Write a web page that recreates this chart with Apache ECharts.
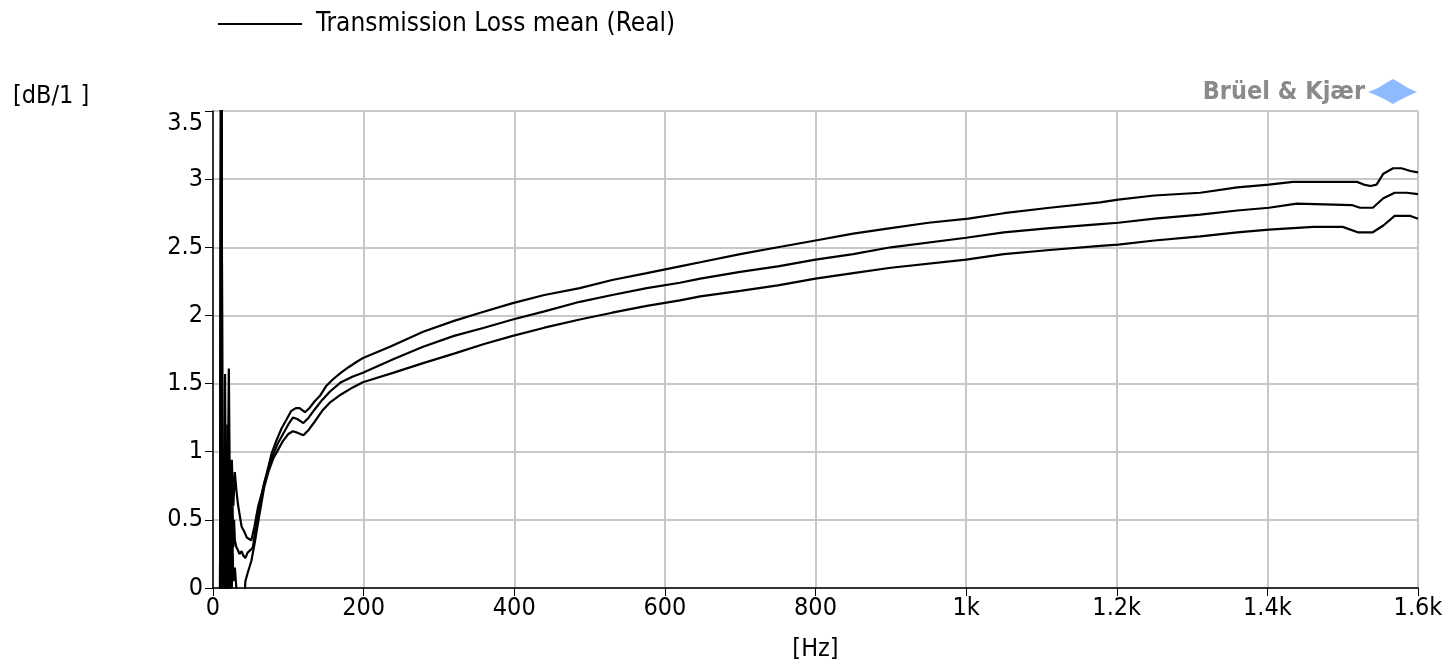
<!DOCTYPE html>
<html>
<head>
<meta charset="utf-8">
<title>Transmission Loss</title>
<script src="https://cdn.jsdelivr.net/npm/echarts@6/dist/echarts.min.js"></script>
<style>
  html, body { margin: 0; padding: 0; background: #fff; }
  #chart { width: 1450px; height: 662px; }
</style>
</head>
<body>
<div id="chart"></div>
<script>
// tick labels
const xTickLabels = ['0', '200', '400', '600', '800', '1k', '1.2k', '1.4k', '1.6k']
const yTickLabels = ['0', '0.5', '1', '1.5', '2', '2.5', '3', '3.5']

// [Hz, dB]; values outside 0..3.5 are clipped like in the original
const upperCurve = [
  [9, -1], [11, 5], [13, -1], [16, 1.57], [18, -0.5], [21, 1.61], [23, 0.3], [25, 0.94],
  [27, 0.6], [29, 0.85], [31, 0.72], [33, 0.62], [35, 0.55], [38, 0.45], [41, 0.42],
  [45, 0.37], [48, 0.36], [51, 0.35], [55, 0.45], [60, 0.6], [65, 0.7], [69, 0.79],
  [74, 0.9], [78, 0.99], [84, 1.08], [91, 1.17], [98, 1.24], [104, 1.30], [110, 1.32],
  [115, 1.32], [122, 1.29], [128, 1.32], [135, 1.37], [142, 1.41], [150, 1.48], [159, 1.53],
  [170, 1.58], [180, 1.62], [191, 1.66], [200, 1.69], [235, 1.77], [279, 1.88], [320, 1.96],
  [355, 2.02], [398, 2.09], [440, 2.15], [487, 2.20], [530, 2.26], [576, 2.31], [620, 2.36],
  [647, 2.39], [700, 2.45], [750, 2.50], [800, 2.55], [850, 2.60], [900, 2.64], [950, 2.68],
  [1003, 2.71], [1050, 2.75], [1111, 2.79], [1178, 2.83], [1202, 2.85], [1250, 2.88],
  [1311, 2.90], [1360, 2.94], [1402, 2.96], [1434, 2.98], [1519, 2.98], [1528, 2.96],
  [1537, 2.95], [1545, 2.96], [1554, 3.04], [1567, 3.08], [1578, 3.08], [1590, 3.06], [1600, 3.05]
]
const meanCurve = [
  [9, -1], [11, 5], [13, -1], [16, 1.0], [17, -0.3], [19, 1.2], [20, -0.2], [21, 0.9],
  [22, 0.1], [24, 0.75], [25, 0.2], [26, 0.6], [27, 0.3], [28, 0.5], [29, 0.35], [31, 0.3],
  [33, 0.28], [35, 0.25], [38, 0.27], [40, 0.24], [43, 0.22], [46, 0.26], [50, 0.28],
  [53, 0.3], [57, 0.45], [62, 0.6], [68, 0.77], [74, 0.88], [80, 0.98], [86, 1.06],
  [93, 1.13], [100, 1.2], [106, 1.25], [112, 1.24], [120, 1.21], [127, 1.25], [135, 1.31],
  [145, 1.38], [155, 1.44], [170, 1.51], [185, 1.55], [199, 1.58], [240, 1.68], [279, 1.77],
  [320, 1.85], [360, 1.91], [398, 1.97], [440, 2.03], [487, 2.10], [530, 2.15], [576, 2.20],
  [620, 2.24], [647, 2.27], [700, 2.32], [750, 2.36], [800, 2.41], [850, 2.45], [900, 2.50],
  [1000, 2.57], [1050, 2.61], [1111, 2.64], [1178, 2.67], [1202, 2.68], [1250, 2.71],
  [1311, 2.74], [1360, 2.77], [1402, 2.79], [1439, 2.82], [1512, 2.81], [1523, 2.79],
  [1540, 2.79], [1554, 2.86], [1569, 2.90], [1585, 2.90], [1600, 2.89]
]
const lowerCurve = [
  [9, -1], [11, 5], [13, -1], [16, 0.6], [17, -0.5], [19, 0.8], [20, -0.3], [21, 0.5],
  [22, -0.3], [24, 0.45], [25, 0.0], [26, 0.3], [27, 0.05], [29, 0.15], [31, 0.0],
  [33, -0.3], [40, -0.3], [43, 0.05], [46, 0.11], [51, 0.2], [56, 0.35], [62, 0.55],
  [68, 0.74], [74, 0.86], [80, 0.95], [86, 1.01], [93, 1.08], [100, 1.13], [106, 1.15],
  [112, 1.14], [120, 1.12], [127, 1.16], [135, 1.22], [145, 1.30], [155, 1.36], [170, 1.42],
  [185, 1.47], [199, 1.51], [240, 1.58], [279, 1.65], [320, 1.72], [360, 1.79], [398, 1.85],
  [440, 1.91], [487, 1.97], [530, 2.02], [576, 2.07], [620, 2.11], [647, 2.14], [700, 2.18],
  [750, 2.22], [800, 2.27], [850, 2.31], [900, 2.35], [1000, 2.41], [1050, 2.45],
  [1111, 2.48], [1178, 2.51], [1202, 2.52], [1250, 2.55], [1311, 2.58], [1360, 2.61],
  [1402, 2.63], [1461, 2.65], [1500, 2.65], [1520, 2.61], [1540, 2.61], [1554, 2.66],
  [1569, 2.73], [1590, 2.73], [1600, 2.71]
]

const FONT = "'DejaVu Sans Condensed', 'DejaVu Sans', sans-serif"

const chart = echarts.init(document.getElementById('chart'))

function curve(name, data) {
  return {
    name: name,
    type: 'line',
    data: data,
    symbol: 'none',
    clip: true,
    lineStyle: { color: '#000', width: 2.2 },
    itemStyle: { color: '#000' }
  }
}

chart.setOption({
  animation: false,
  backgroundColor: '#fff',
  textStyle: { fontFamily: FONT },
  legend: {
    data: ['Transmission Loss mean (Real)'],
    left: 213,
    top: 6,
    icon: 'rect',
    itemWidth: 84,
    itemHeight: 2,
    itemStyle: { color: '#000' },
    textStyle: { fontFamily: FONT, fontSize: 26, color: '#000', padding: [0, 0, 0, 9] }
  },
  grid: { left: 213, right: 32, top: 111, bottom: 74, outerBoundsMode: 'none' },
  xAxis: {
    type: 'value',
    min: 0,
    max: 1600,
    interval: 200,
    name: '[Hz]',
    nameLocation: 'middle',
    nameGap: 49,
    nameTextStyle: { fontFamily: FONT, fontSize: 25, color: '#000' },
    axisLine: { lineStyle: { color: '#000', width: 1.5 } },
    axisTick: { show: true, length: 8, lineStyle: { color: '#000', width: 1 } },
    axisLabel: {
      fontFamily: FONT, fontSize: 25, color: '#000', margin: 8,
      formatter: v => xTickLabels[Math.round(v / 200)]
    },
    splitLine: { show: true, lineStyle: { color: '#c8c8c8', width: 2 } }
  },
  yAxis: {
    type: 'value',
    min: 0,
    max: 3.5,
    interval: 0.5,
    axisLine: { show: true, lineStyle: { color: '#000', width: 1.5 } },
    axisTick: { show: true, length: 8, lineStyle: { color: '#000', width: 1 } },
    axisLabel: {
      fontFamily: FONT, fontSize: 25, color: '#000', margin: 10,
      verticalAlignMaxLabel: 'top',
      formatter: v => yTickLabels[Math.round(v / 0.5)]
    },
    splitLine: { show: true, lineStyle: { color: '#c8c8c8', width: 2 } }
  },
  graphic: [
    {
      type: 'text',
      left: 13,
      top: 84,
      style: { text: '[dB/1 ]', font: '25px ' + FONT, fill: '#000' }
    },
    {
      type: 'text',
      right: 85,
      top: 80,
      style: { text: 'Brüel & Kjær', font: 'bold 25px ' + FONT, fill: '#8a8a8a' }
    },
    {
      type: 'polygon',
      shape: {
        points: [[1368, 92], [1378, 88], [1386, 83], [1393, 79], [1400, 83], [1408, 88],
                 [1417, 92], [1408, 96], [1400, 100], [1393, 104], [1386, 100], [1378, 96]]
      },
      style: { fill: '#8ebbff' }
    }
  ],
  series: [
    curve('upper', upperCurve),
    curve('Transmission Loss mean (Real)', meanCurve),
    curve('lower', lowerCurve)
  ]
})
</script>
</body>
</html>
